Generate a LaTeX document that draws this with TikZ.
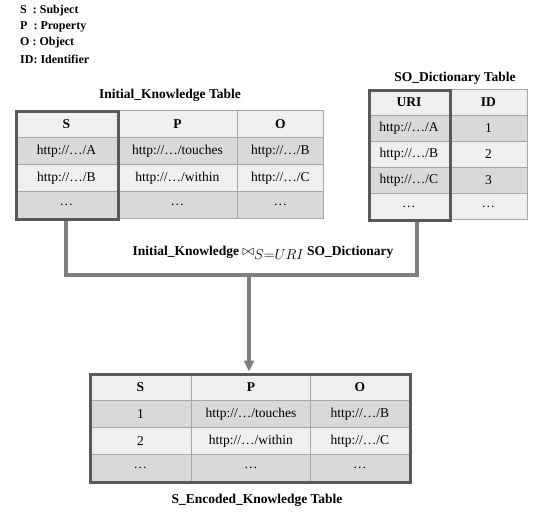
\documentclass[tikz,border=0pt]{standalone}
\usepackage{fontspec}
\setmainfont{Liberation Serif}
\usetikzlibrary{arrows.meta}
\definecolor{rowlight}{HTML}{EFEFEF}
\definecolor{rowdark}{HTML}{D9D9D9}
\definecolor{gridline}{HTML}{A6A6A6}
\definecolor{framegray}{HTML}{595959}
\definecolor{wire}{HTML}{7F7F7F}
\begin{document}
\begin{tikzpicture}[x=1pt,y=-1pt,
  cell/.style={draw=gridline, line width=0.8pt, inner sep=0pt, anchor=north west,
    font=\fontsize{13.5}{16}\selectfont},
  head/.style={cell, fill=rowlight, font=\bfseries\fontsize{13.5}{16}\selectfont},
  light/.style={cell, fill=rowlight},
  dark/.style={cell, fill=rowdark},
  tframe/.style={draw=framegray, line width=3.2pt, inner sep=0pt, anchor=north west},
  ttitle/.style={font=\bfseries\fontsize{13.5}{16}\selectfont, inner sep=0pt},
  legend/.style={font=\bfseries\fontsize{12}{14}\selectfont, anchor=west, inner sep=0pt},
  conn/.style={draw=wire, line width=3.5pt}
]
\useasboundingbox (0,0) rectangle (560,517);

% legend
\node[legend] (lgS) at (20,11) {S~~: Subject};
\node[legend] (lgP) at (20,27) {P~~: Property};
\node[legend] (lgO) at (20,43) {O : Object};
\node[legend] (lgID) at (20,59) {ID: Identifier};

% connectors
\coordinate (bend) at (417,275);
\coordinate (skfoot) at (66,218);
\coordinate (urifoot) at (417,219);
\coordinate (enctop) at (249,373);
\draw[conn] (skfoot) |- (bend) -- (urifoot);
\draw[conn, shorten >=1.5pt, -{Triangle[width=10pt,length=11pt]}] (enctop |- bend) -- (enctop);

% Initial_Knowledge table
\node[ttitle] (iktitle) at (170,95) {Initial\_Knowledge Table};
\node[head, minimum width=102, minimum height=27] (ik00) at (15,110) {S};
\node[head, minimum width=120, minimum height=27] (ik01) at (117,110) {P};
\node[head, minimum width=86,  minimum height=27] (ik02) at (237,110) {O};
\node[dark, minimum width=102, minimum height=27] (ik10) at (15,137) {http://…/A};
\node[dark, minimum width=120, minimum height=27] (ik11) at (117,137) {http://…/touches};
\node[dark, minimum width=86,  minimum height=27] (ik12) at (237,137) {http://…/B};
\node[light, minimum width=102, minimum height=27] (ik20) at (15,164) {http://…/B};
\node[light, minimum width=120, minimum height=27] (ik21) at (117,164) {http://…/within};
\node[light, minimum width=86,  minimum height=27] (ik22) at (237,164) {http://…/C};
\node[dark, minimum width=102, minimum height=27] (ik30) at (15,191) {…};
\node[dark, minimum width=120, minimum height=27] (ik31) at (117,191) {…};
\node[dark, minimum width=86,  minimum height=27] (ik32) at (237,191) {…};
\node[tframe, minimum width=102, minimum height=108] (skbox) at (15,110) {};

% SO_Dictionary table
\node[ttitle] (sotitle) at (455,78) {SO\_Dictionary Table};
\node[head, minimum width=81, minimum height=26] (so00) at (368,89) {URI};
\node[head, minimum width=78, minimum height=26] (so01) at (449,89) {ID};
\node[dark, minimum width=81, minimum height=26] (so10) at (368,115) {http://…/A};
\node[dark, minimum width=78, minimum height=26] (so11) at (449,115) {1};
\node[light, minimum width=81, minimum height=26] (so20) at (368,141) {http://…/B};
\node[light, minimum width=78, minimum height=26] (so21) at (449,141) {2};
\node[dark, minimum width=81, minimum height=26] (so30) at (368,167) {http://…/C};
\node[dark, minimum width=78, minimum height=26] (so31) at (449,167) {3};
\node[light, minimum width=81, minimum height=26] (so40) at (368,193) {…};
\node[light, minimum width=78, minimum height=26] (so41) at (449,193) {…};
\node[tframe, minimum width=81, minimum height=130] (uribox) at (368,89) {};

% join label
\node[ttitle] (joinlabel) at (263,253)
  {Initial\_Knowledge {\normalfont$\bowtie$}\raisebox{-4pt}{$S{=}URI$} SO\_Dictionary};

% S_Encoded_Knowledge table
\node[head, minimum width=102, minimum height=27] (en00) at (89,373) {S};
\node[head, minimum width=119, minimum height=27] (en01) at (191,373) {P};
\node[head, minimum width=99,  minimum height=27] (en02) at (310,373) {O};
\node[dark, minimum width=102, minimum height=27] (en10) at (89,400) {1};
\node[dark, minimum width=119, minimum height=27] (en11) at (191,400) {http://…/touches};
\node[dark, minimum width=99,  minimum height=27] (en12) at (310,400) {http://…/B};
\node[light, minimum width=102, minimum height=27] (en20) at (89,427) {2};
\node[light, minimum width=119, minimum height=27] (en21) at (191,427) {http://…/within};
\node[light, minimum width=99,  minimum height=27] (en22) at (310,427) {http://…/C};
\node[dark, minimum width=102, minimum height=27] (en30) at (89,454) {…};
\node[dark, minimum width=119, minimum height=27] (en31) at (191,454) {…};
\node[dark, minimum width=99,  minimum height=27] (en32) at (310,454) {…};
\node[tframe, minimum width=320, minimum height=108] (encbox) at (89,373) {};
\node[ttitle] (entitle) at (257,500) {S\_Encoded\_Knowledge Table};
\end{tikzpicture}
\end{document}
